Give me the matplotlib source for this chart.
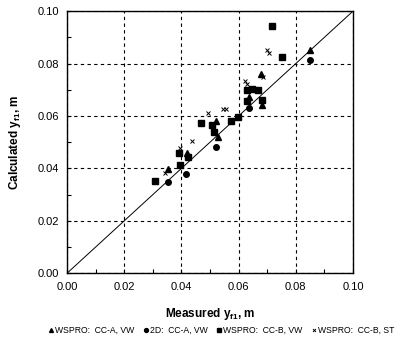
import numpy as np
import matplotlib
matplotlib.use("Agg")
import matplotlib.pyplot as plt
from matplotlib.ticker import MultipleLocator

plt.rcParams['font.family'] = ['Liberation Sans', 'DejaVu Sans']

# WSPRO: CC-A, VW
tri_x = [0.0851, 0.0680, 0.0637, 0.0683, 0.0522, 0.0529, 0.0420, 0.0353]
tri_y = [0.0851, 0.0762, 0.0671, 0.0642, 0.0581, 0.0521, 0.0460, 0.0396]
# 2D: CC-A, VW
dia_x = [0.0851, 0.0637, 0.0521, 0.0417, 0.0353]
dia_y = [0.0813, 0.0629, 0.0481, 0.0379, 0.0349]
# WSPRO: CC-B, VW
sq_x = [0.0717, 0.0753, 0.0629, 0.0647, 0.0668, 0.0629, 0.0682, 0.0598,
        0.0573, 0.0470, 0.0508, 0.0515, 0.0392, 0.0422, 0.0396, 0.0308]
sq_y = [0.0943, 0.0826, 0.0699, 0.0704, 0.0698, 0.0658, 0.0662, 0.0597,
        0.0581, 0.0574, 0.0567, 0.0537, 0.0460, 0.0445, 0.0414, 0.0352]
# WSPRO: CC-B, ST
st_x = [0.0699, 0.0706, 0.0685, 0.0622, 0.0629, 0.0494, 0.0546, 0.0555,
        0.0436, 0.0396, 0.0343]
st_y = [0.0851, 0.0841, 0.0750, 0.0733, 0.0722, 0.0612, 0.0627, 0.0627,
        0.0503, 0.0478, 0.0384]

ticks = [0.00, 0.02, 0.04, 0.06, 0.08, 0.10]

fig = plt.figure(figsize=(4.06, 3.47), dpi=100)
ax = fig.add_axes([0.165, 0.2124, 0.7045, 0.7556])

ax.plot([0, 0.1], [0, 0.1], color="black", lw=0.7, zorder=2)
ax.plot(tri_x, tri_y, "^", color="black", ms=4, ls="none", label="WSPRO:  CC-A, VW", zorder=3)
ax.plot(dia_x, dia_y, "o", color="black", ms=4, ls="none", label="2D:  CC-A, VW", zorder=3)
ax.plot(sq_x, sq_y, "s", color="black", ms=5, ls="none", label="WSPRO:  CC-B, VW", zorder=3)
ax.plot(st_x, st_y, "x", color="black", ms=3, mew=0.7, ls="none", label="WSPRO:  CC-B, ST", zorder=3)

ax.set_xlim(0, 0.1); ax.set_ylim(0, 0.1)
ax.set_xticks(ticks); ax.set_yticks(ticks)
ax.set_xticklabels([f"{t:.2f}" for t in ticks], fontsize=8)
ax.set_yticklabels([f"{t:.2f}" for t in ticks], fontsize=8)
ax.xaxis.set_minor_locator(MultipleLocator(0.01))
ax.yaxis.set_minor_locator(MultipleLocator(0.01))
ax.tick_params(which="both", direction="in", length=3, width=0.8, pad=6)
ax.grid(True, which="major", color="black", ls=(0, (3, 3)), lw=0.8)
for s in ax.spines.values():
    s.set_linewidth(1.0)

ax.set_xlabel("Measured y$_{\\mathregular{f1}}$, m", fontsize=8.5, fontweight="bold", labelpad=10)
ax.set_ylabel("Calculated y$_{\\mathregular{f1}}$, m", fontsize=8.5, fontweight="bold", labelpad=10)

fig.legend(loc="center", bbox_to_anchor=(0.544, 0.048), ncol=4, frameon=False,
           fontsize=6.2, handletextpad=0.1, columnspacing=0.9, markerscale=0.7,
           handlelength=0.8)

fig.savefig("out.png", dpi=100)
